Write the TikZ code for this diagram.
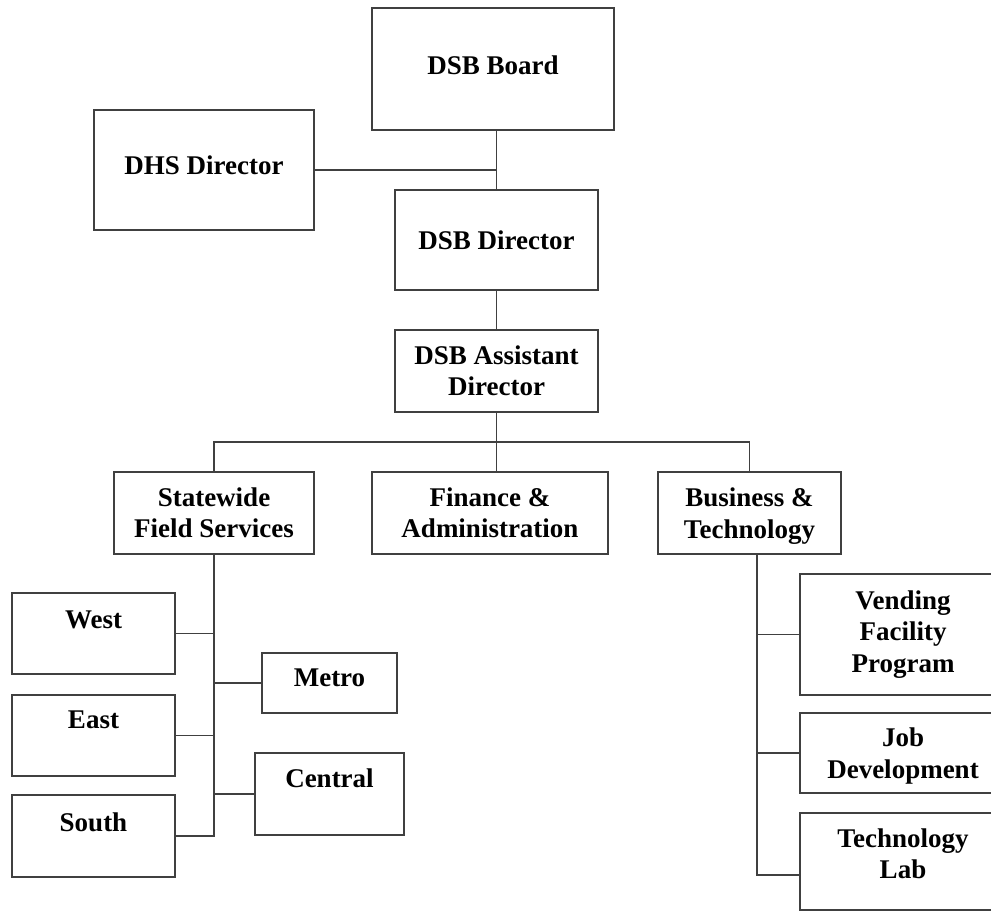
\documentclass[tikz,border=0pt]{standalone}
\usepackage{fontspec}
\setmainfont{Liberation Serif}
\begin{document}
\begin{tikzpicture}[x=1pt, y=-1pt,
  box/.style={draw=black!75, line width=1.6pt, rectangle, inner sep=0pt,
    align=center, fill=white, font=\bfseries\fontsize{27}{31.5}\selectfont},
  lift/.style={text depth=#1},
  link/.style={draw=black!75, line width=1.9pt}]

  \clip (0, 0) rectangle (991, 912);

  \newcommand\BUS{442}
  \newcommand\SIDE{93.5}
  \newcommand\RIGHT{903}

  \node[box, lift=8pt, minimum width=242, minimum height=122] (board) at (493, 69) {DSB Board};
  \node[box, lift=10pt, minimum width=220, minimum height=120] (dhs) at (204, 170) {DHS Director};
  \node[box, minimum width=203, minimum height=100] (director) at (496.5, 240) {DSB Director};
  \node[box, minimum width=203, minimum height=82] (assistant) at (496.5, 371) {DSB Assistant\\Director};

  \node[box, minimum width=200, minimum height=82] (statewide) at (214, 513) {Statewide\\Field Services};
  \node[box, minimum width=236, minimum height=82] (finance) at (490, 513) {Finance \&\\Administration};
  \node[box, lift=0pt, minimum width=183, minimum height=82] (business) at (749.5, 513) {Business \&\\Technology};

  \node[box, lift=27pt, minimum width=163, minimum height=81] (west) at (\SIDE, 633.5) {West};
  \node[box, lift=31pt, minimum width=163, minimum height=81] (east) at (\SIDE, 735.5) {East};
  \node[box, lift=28pt, minimum width=163, minimum height=82] (south) at (\SIDE, 836) {South};
  \node[box, lift=10pt, minimum width=135, minimum height=60] (metro) at (329.5, 683) {Metro};
  \node[box, lift=32pt, minimum width=149, minimum height=82] (central) at (329.5, 794) {Central};

  \node[box, minimum width=206, minimum height=121] (vending) at (\RIGHT, 634.5) {Vending\\Facility\\Program};
  \node[box, lift=0pt, minimum width=206, minimum height=80] (job) at (\RIGHT, 753) {Job\\Development};
  \node[box, lift=16pt, minimum width=206, minimum height=97] (techlab) at (\RIGHT, 861.5) {Technology\\Lab};

  \coordinate (bus) at (496.5, \BUS);
  \coordinate (biztrunk) at ([xshift=7.5pt]business.south);

  \draw[link] (board.south -| director.north) -- (director.north);
  \draw[link] (dhs.east) -- (dhs.east -| director.north);
  \draw[link] (director.south) -- (assistant.north);
  \draw[link] (assistant.south) -- (bus);

  \draw[link] (statewide.north) |- (bus) -| (business.north);
  \draw[link] (bus) -- (bus |- finance.north);

  \draw[link] (statewide.south) |- (south.east);
  \draw[link] (west.east) -- (west.east -| statewide.south);
  \draw[link] (east.east) -- (east.east -| statewide.south);
  \draw[link] (metro.west) -- (metro.west -| statewide.south);
  \draw[link] (central.west) -- (central.west -| statewide.south);

  \draw[link] (biztrunk) |- ([yshift=-13.5pt]techlab.west);
  \draw[link] (vending.west) -- (vending.west -| biztrunk);
  \draw[link] (job.west) -- (job.west -| biztrunk);

\end{tikzpicture}
\end{document}
